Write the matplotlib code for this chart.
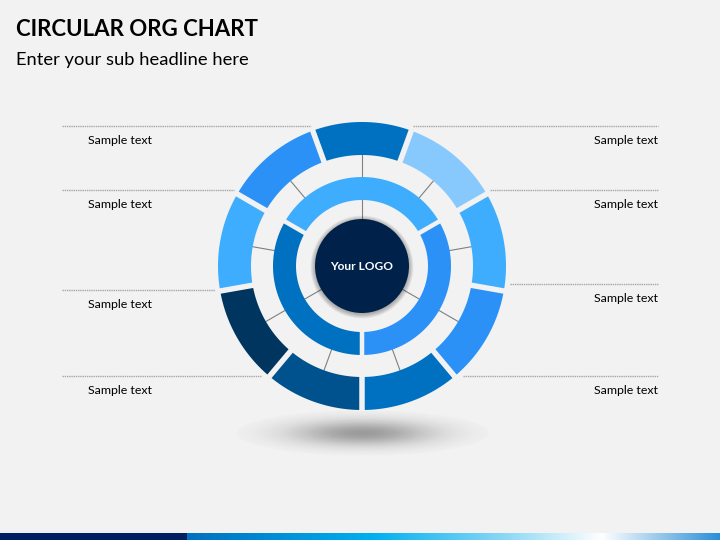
import numpy as np
import matplotlib
matplotlib.use("Agg")
import matplotlib.pyplot as plt
from matplotlib.patches import Polygon, Circle
from matplotlib.colors import LinearSegmentedColormap

plt.rcParams['font.family'] = ['Lato', 'DejaVu Sans']

# --- content ---
title = "CIRCULAR ORG CHART"
subtitle = "Enter your sub headline here"
logo_text = "Your LOGO"

# outer ring, clockwise from the top segment
outer_colors = ["#0070C0", "#88C9FD", "#3FADFE", "#2B91F7", "#0070C0",
                "#00528E", "#00355F", "#3FADFE", "#2B91F7"]
# inner ring, clockwise from the top segment
inner_colors = ["#3FADFE", "#2B91F7", "#0070C0"]

left_labels = ["Sample text"] * 4
left_y = [126, 190, 290, 376]
right_labels = ["Sample text"] * 4
right_y = [126, 190, 284, 376]

bg = "#F2F2F2"
cx, cy = 362, 266


def pt(r, a):
    a = np.radians(a)
    return cx + r * np.cos(a), cy - r * np.sin(a)


def segment(ax, r_in, r_out, a_start, a_end, gap, color):
    # arc segment with a gap of constant width on both sides
    ho = np.degrees(np.arcsin(gap / 2 / r_out))
    hi = np.degrees(np.arcsin(gap / 2 / r_in))
    ta = np.linspace(a_start - ho, a_end + ho, 60)
    tb = np.linspace(a_end + hi, a_start - hi, 60)
    xs = np.concatenate([cx + r_out * np.cos(np.radians(ta)), cx + r_in * np.cos(np.radians(tb))])
    ys = np.concatenate([cy - r_out * np.sin(np.radians(ta)), cy - r_in * np.sin(np.radians(tb))])
    ax.add_patch(Polygon(np.column_stack([xs, ys]), closed=True, color=color, lw=0, zorder=3))


fig = plt.figure(figsize=(7.2, 5.4), dpi=100)
fig.patch.set_facecolor(bg)
ax = fig.add_axes([0, 0, 1, 1])
ax.set_facecolor(bg)
ax.axis('off')

# titles
ax.text(16, 29, title, fontsize=16, fontweight='bold', color='black', va='center', ha='left')
ax.text(16, 60, subtitle, fontsize=13.2, color='black', va='center', ha='left')

# shadow under the chart
gx = np.linspace(-1, 1, 300)
gy = np.linspace(-1, 1, 80)
GX, GY = np.meshgrid(gx, gy)
alpha = 0.36 * np.exp(-3.2 * (GX ** 2 + GY ** 2))
alpha[GX ** 2 + GY ** 2 > 1] = 0
sh = np.zeros((80, 300, 4))
sh[..., 3] = alpha
ax.imshow(sh, extent=(236, 490, 456, 410), zorder=1, interpolation='bilinear')

# outer ring: 9 segments of 40 degrees, top one centred at 90
n_out = len(outer_colors)
step = 360 / n_out
for i, c in enumerate(outer_colors):
    mid = 90 - i * step
    segment(ax, 111, 144, mid + step / 2, mid - step / 2, 5.5, c)
    x0, y0 = pt(89, mid)
    x1, y1 = pt(111, mid)
    ax.plot([x0, x1], [y0, y1], color="#808080", lw=0.8, zorder=2)

# inner ring: 3 segments of 120 degrees
n_in = len(inner_colors)
step_in = 360 / n_in
for i, c in enumerate(inner_colors):
    mid = 90 - i * step_in
    segment(ax, 66, 89, mid + step_in / 2, mid - step_in / 2, 4.5, c)
    x0, y0 = pt(46, mid)
    x1, y1 = pt(66, mid)
    ax.plot([x0, x1], [y0, y1], color="#808080", lw=0.8, zorder=2)

# logo with soft shadow
for k in range(8):
    ax.add_patch(Circle((cx, cy + 1), 47 + 4.5 - k * 0.6, color='black', alpha=0.04, lw=0, zorder=4))
ax.add_patch(Circle((cx, cy), 47, color="#00224A", lw=0, zorder=5))
ax.text(cx, cy, logo_text, color='white', fontsize=8.6, fontweight='bold', ha='center', va='center', zorder=6)

# dotted guide lines and labels
r_line = 149
for lab, y in zip(left_labels, left_y):
    dy = y - cy
    xe = cx - np.sqrt(r_line ** 2 - dy ** 2)
    ax.plot([62, xe], [y, y], color="#A6A6A6", lw=1, ls=(0, (1, 0.6)), zorder=1)
    ax.text(88, y + 14, lab, fontsize=8.9, color='black', ha='left', va='center')
for lab, y in zip(right_labels, right_y):
    dy = y - cy
    xs = cx + np.sqrt(r_line ** 2 - dy ** 2)
    ax.plot([xs, 658], [y, y], color="#A6A6A6", lw=1, ls=(0, (1, 0.6)), zorder=1)
    ax.text(658, y + 14, lab, fontsize=8.9, color='black', ha='right', va='center')

# bottom gradient bar
ax.add_patch(plt.Rectangle((0, 533), 187, 7, color="#002060", lw=0, zorder=2))
cmap = LinearSegmentedColormap.from_list(
    "bar", [(0, "#0070C0"), (0.35, "#00B0F0"), (0.6, "#8ED8F6"), (0.78, "#FFFFFF"), (1, "#2B8FD8")])
grad = np.linspace(0, 1, 256).reshape(1, -1)
ax.imshow(grad, cmap=cmap, extent=(187, 720, 540, 533), aspect='auto', zorder=2)

ax.set_xlim(0, 720)
ax.set_ylim(540, 0)

fig.savefig("out.png", dpi=100, facecolor=bg)
